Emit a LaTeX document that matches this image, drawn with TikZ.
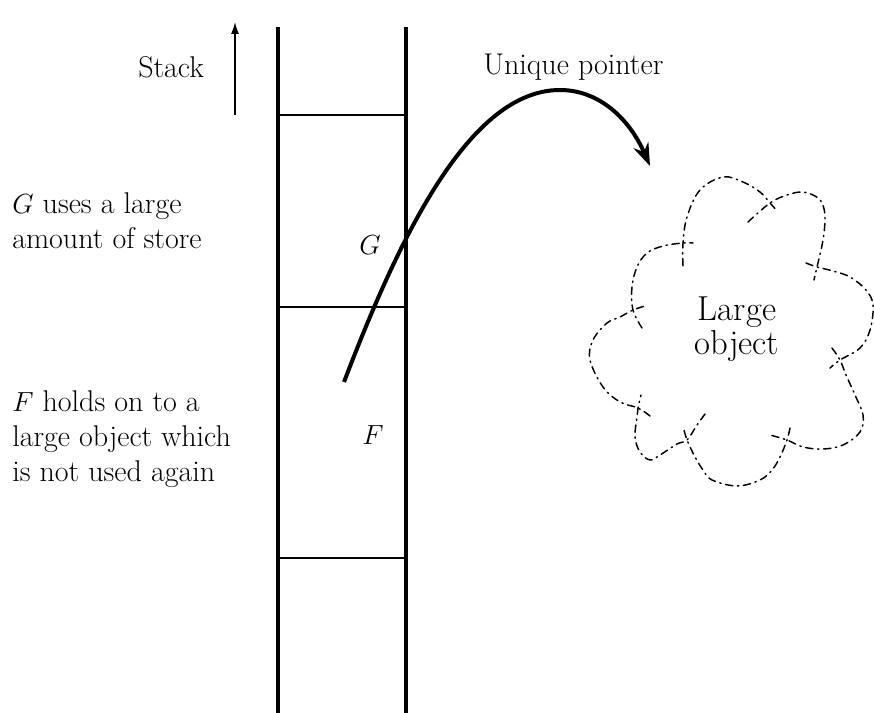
\documentclass[tikz,border=0pt]{standalone}
\usetikzlibrary{arrows.meta}
\begin{document}
\begin{tikzpicture}[x=0.75pt,y=-0.75pt,
  stackline/.style={line width=2.4pt},
  slotline/.style={line width=1.8pt},
  label/.style={font=\fontsize{22.5}{26}\selectfont, align=left, inner sep=0pt},
  frame/.style={font=\fontsize{22}{26}\selectfont, inner sep=0pt},
  lobe/.style={line width=1.1pt, dash pattern=on 5.5pt off 3.5pt on 1pt off 3.5pt, line cap=round},
  pointer/.style={line width=3pt, -{Stealth[length=17pt,width=12pt]}},
  stackarrow/.style={line width=1.1pt, -{Latex[length=9pt,width=6pt]}}]
\useasboundingbox (0,0) rectangle (874,713);
% stack
\coordinate (tl) at (278,27);
\coordinate (bl) at (278,713);
\coordinate (tr) at (406,27);
\coordinate (br) at (406,713);
\draw[stackline] (tl) -- (bl);
\draw[stackline] (tr) -- (br);
\draw[slotline] (278,115) -- (406,115);
\draw[slotline] (278,307) -- (406,307);
\draw[slotline] (278,558) -- (406,558);
\node[frame] (g) at (370,245) {$G$};
\node[frame] (f) at (373,435) {$F$};
% stack arrow
\coordinate (sa0) at (235,115);
\coordinate (sa1) at (235,22);
\draw[stackarrow] (sa0) -- (sa1);
\node[label, anchor=base west] (stack) at (138,78) {Stack};
\node[label, anchor=base west] (glab) at (12,248) {$G$ uses a large\\amount of store};
\node[label, anchor=base west] (flab) at (12,481) {$F$ holds on to a\\large object which\\is not used again};
\node[label, anchor=base west] (ptrlab) at (483,75) {Unique pointer};
% pointer
\coordinate (p0) at (344,382);
\coordinate (pk) at (560,90);
\coordinate (p1) at (650,166);
\draw[pointer] (p0) .. controls (400,235) and (470,90) .. (pk) .. controls (600,90) and (630,120) .. (p1);
% cloud
\node[font=\fontsize{26}{25}\selectfont, align=center, inner sep=0pt, anchor=base] (obj) at (737,354) {Large\\object};
\draw[lobe] plot[smooth, tension=0.6] coordinates {(683,266) (683,243) (687,217) (700,190) (723,177) (743,182) (760,192) (770,203) (778,212)};
\draw[lobe] plot[smooth, tension=0.6] coordinates {(748,222) (770,203) (787,195) (802,192) (815,196) (822,203) (825,217) (823,240) (817,267) (814,280)};
\draw[lobe] plot[smooth, tension=0.6] coordinates {(806,263) (817,267) (833,271) (850,277) (866,290) (873,305) (870,330) (860,348) (840,360) (830,368)};
\draw[lobe] plot[smooth, tension=0.6] coordinates {(832,348) (840,360) (846,375) (855,395) (863,415) (860,432) (843,445) (823,449) (803,447) (787,440) (770,435)};
\draw[lobe] plot[smooth, tension=0.6] coordinates {(790,428) (787,440) (780,457) (772,470) (760,480) (737,486) (712,480) (703,470) (695,457) (687,440) (683,426)};
\draw[lobe] plot[smooth, tension=0.6] coordinates {(705,414) (697,425) (687,440) (677,444) (660,455) (650,460) (640,452) (635,437) (637,417) (638,408) (641,395)};
\draw[lobe] plot[smooth, tension=0.6] coordinates {(650,416) (638,408) (620,402) (603,387) (590,360) (593,340) (607,323) (620,317) (633,310) (645,306)};
\draw[lobe] plot[smooth, tension=0.6] coordinates {(642,328) (633,310) (632,287) (637,267) (647,253) (663,246) (683,243) (693,243)};
\end{tikzpicture}
\end{document}
